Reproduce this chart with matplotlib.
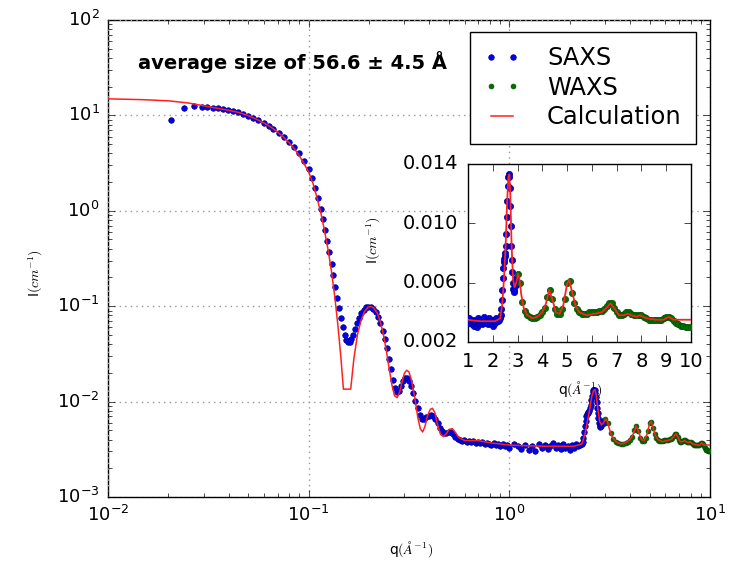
import matplotlib
matplotlib.use("Agg")
import matplotlib.pyplot as plt

plt.style.use('classic')
plt.rcParams['figure.facecolor'] = 'white'
plt.rcParams['savefig.facecolor'] = 'white'

# ---------------- data ----------------
saxs_q = [0.0207, 0.0239, 0.0268, 0.0293, 0.0313, 0.0333, 0.0355, 0.0376, 0.0398, 0.0422,
          0.0447, 0.0473, 0.0501, 0.0531, 0.0562, 0.0596, 0.0631, 0.0668, 0.0708, 0.075,
          0.0794, 0.0841, 0.0891, 0.0944, 0.1, 0.104, 0.108, 0.1114,
          0.115, 0.118, 0.121, 0.124, 0.127, 0.130, 0.133, 0.136, 0.139, 0.142,
          0.145, 0.148, 0.151, 0.154, 0.157, 0.160, 0.163, 0.166, 0.170, 0.174,
          0.178, 0.183, 0.188, 0.193, 0.198, 0.204, 0.210, 0.216, 0.222, 0.228,
          0.234, 0.240, 0.246, 0.252, 0.258, 0.264, 0.270, 0.276, 0.282, 0.288,
          0.295, 0.302, 0.309, 0.316, 0.324, 0.332, 0.340, 0.349, 0.358, 0.367,
          0.376, 0.386, 0.396, 0.406, 0.417, 0.428, 0.439, 0.450, 0.462, 0.474,
          0.486, 0.499, 0.512, 0.525, 0.539, 0.553, 0.567, 0.582, 0.597, 0.613,
          0.629, 0.645, 0.662, 0.679, 0.697, 0.715, 0.734, 0.753, 0.773, 0.793,
          0.814, 0.835, 0.857, 0.880, 0.903, 0.927, 0.951, 0.976, 1.00,
          1.05, 1.10, 1.15, 1.20, 1.25, 1.30, 1.35, 1.40, 1.45, 1.50,
          1.55, 1.60, 1.65, 1.70, 1.75, 1.80, 1.85, 1.90, 1.95, 2.00,
          2.05, 2.10, 2.15, 2.20, 2.25,
          2.30, 2.32, 2.34, 2.36, 2.38, 2.40, 2.42, 2.44, 2.46, 2.48,
          2.50, 2.52, 2.54, 2.56, 2.58, 2.60, 2.62, 2.64, 2.66, 2.68,
          2.70, 2.72, 2.74, 2.76, 2.78, 2.80, 2.82, 2.84, 2.86, 2.88,
          2.90, 2.92, 2.94, 2.96]
saxs_I = [9.0, 11.9, 12.6, 12.3, 12.2, 12.05, 11.9, 11.6, 11.3, 11.05,
          10.8, 10.35, 9.93, 9.46, 8.95, 8.38, 7.80, 7.20, 6.58, 5.94,
          5.30, 4.63, 4.0, 3.33, 2.74, 2.19, 1.72, 1.35,
          1.05, 0.82, 0.63, 0.48, 0.37, 0.28, 0.21, 0.16, 0.122, 0.095,
          0.075, 0.06, 0.05, 0.044, 0.042, 0.0425, 0.045, 0.05, 0.058, 0.067,
          0.076, 0.085, 0.092, 0.097, 0.099, 0.098, 0.094, 0.087, 0.077, 0.066,
          0.055, 0.045, 0.036, 0.028, 0.022, 0.017, 0.014, 0.0125, 0.0128, 0.0145,
          0.0165, 0.0175, 0.0178, 0.0165, 0.0145, 0.0122, 0.0102, 0.0085, 0.0072, 0.0066,
          0.0066, 0.0069, 0.0071, 0.0072, 0.0071, 0.0066, 0.0059, 0.0053, 0.0049, 0.0047,
          0.0047, 0.0048, 0.0048, 0.0046, 0.0043, 0.0041, 0.0040, 0.0039, 0.0040, 0.0038,
          0.0039, 0.0038, 0.0039, 0.0037, 0.0038, 0.0037, 0.0038, 0.0036, 0.0037, 0.0036,
          0.0035, 0.0037, 0.0035, 0.0036, 0.0034, 0.0036, 0.0034, 0.0035, 0.0033,
          0.0036, 0.0034, 0.0032, 0.0035, 0.0031, 0.0034, 0.0030, 0.0036, 0.0033, 0.0035,
          0.0032, 0.0034, 0.0037, 0.0033, 0.0035, 0.0032, 0.0036, 0.0033, 0.0034, 0.0031,
          0.0035, 0.0033, 0.0036, 0.0034, 0.0035,
          0.0036, 0.0038, 0.0042, 0.0048, 0.0055, 0.0063, 0.0070, 0.0074, 0.0076, 0.0078,
          0.0080, 0.0085, 0.0093, 0.0104, 0.0115, 0.0125, 0.0131, 0.0133, 0.0131, 0.0124,
          0.0112, 0.0098, 0.0085, 0.0075, 0.0067, 0.0060, 0.0056, 0.0054, 0.0055, 0.0058,
          0.0061, 0.0063, 0.0062, 0.0059]

waxs_q = [3.0, 3.1, 3.2, 3.3, 3.4, 3.5, 3.6, 3.7, 3.8, 3.9,
          4.0, 4.1, 4.2, 4.3, 4.4, 4.5, 4.6, 4.7, 4.8, 4.9,
          5.0, 5.1, 5.2, 5.3, 5.4, 5.5, 5.6, 5.7, 5.8, 5.9,
          6.0, 6.1, 6.2, 6.3, 6.4, 6.5, 6.6, 6.7, 6.8, 6.9,
          7.0, 7.1, 7.2, 7.3, 7.4, 7.5, 7.6, 7.7, 7.8, 7.9,
          8.0, 8.1, 8.2, 8.3, 8.4, 8.5, 8.6, 8.7, 8.8, 8.9,
          9.0, 9.1, 9.2, 9.3, 9.4, 9.5, 9.6, 9.7, 9.8, 9.9, 10.0]
waxs_I = [0.0066, 0.0060, 0.0047, 0.0041, 0.0038, 0.0037, 0.0036, 0.0036, 0.0037, 0.0038,
          0.0040, 0.0043, 0.0050, 0.0055, 0.0049, 0.0042, 0.0039, 0.0039, 0.0042, 0.0049,
          0.0060, 0.0061, 0.0053, 0.0046, 0.0042, 0.0040, 0.0039, 0.0039, 0.0039, 0.0040,
          0.0040, 0.0040, 0.0040, 0.0041, 0.0041, 0.0042, 0.0044, 0.0046, 0.0046, 0.0043,
          0.0040, 0.0038, 0.0038, 0.0039, 0.0040, 0.0040, 0.0039, 0.0038, 0.0038, 0.0038,
          0.0038, 0.0037, 0.0036, 0.0035, 0.0035, 0.0035, 0.0035, 0.0035, 0.0035, 0.0036,
          0.0037, 0.0037, 0.0036, 0.0034, 0.0033, 0.0032, 0.0031, 0.0031, 0.0030, 0.0030, 0.0030]

calc_q = [0.01, 0.015, 0.02, 0.025, 0.03, 0.035, 0.04, 0.045, 0.05, 0.055,
          0.06, 0.065, 0.07, 0.075, 0.08, 0.085, 0.09, 0.095, 0.1, 0.105,
          0.11, 0.115, 0.12, 0.125, 0.13, 0.135, 0.14, 0.145, 0.149, 0.162,
          0.168, 0.175, 0.182, 0.19, 0.198, 0.205, 0.212, 0.22, 0.228, 0.236,
          0.244, 0.252, 0.26, 0.268, 0.276, 0.284, 0.292, 0.30, 0.308, 0.316,
          0.326, 0.338, 0.35, 0.36, 0.37, 0.38, 0.392, 0.404, 0.414, 0.426,
          0.44, 0.455, 0.47, 0.485, 0.50, 0.52, 0.54, 0.56, 0.6, 0.65,
          0.7, 0.8, 0.9, 1.0, 1.2, 1.5, 1.8, 2.1, 2.3, 2.38,
          2.45, 2.52, 2.58, 2.63, 2.67, 2.71, 2.76, 2.82, 2.88, 2.95,
          3.02, 3.08, 3.15, 3.25, 3.4, 3.6, 3.8, 4.0, 4.15, 4.28,
          4.4, 4.55, 4.7, 4.85, 5.0, 5.08, 5.2, 5.35, 5.5, 5.8,
          6.1, 6.4, 6.6, 6.75, 6.9, 7.1, 7.3, 7.45, 7.6, 7.8,
          7.95, 8.2, 8.6, 8.9, 9.1, 9.3, 9.6, 10.0]
calc_I = [14.9, 14.6, 14.2, 13.5, 12.6, 11.9, 11.3, 10.7, 9.95, 9.1,
          8.3, 7.5, 6.7, 5.9, 5.15, 4.45, 3.75, 3.1, 2.55, 1.95,
          1.38, 0.95, 0.62, 0.39, 0.23, 0.125, 0.062, 0.028, 0.0135, 0.0135,
          0.028, 0.05, 0.07, 0.088, 0.098, 0.099, 0.095, 0.084, 0.068, 0.05,
          0.034, 0.022, 0.015, 0.0115, 0.011, 0.0125, 0.016, 0.0198, 0.0213, 0.0205,
          0.0165, 0.011, 0.0068, 0.0052, 0.0048, 0.0055, 0.0072, 0.0083, 0.0085, 0.0076,
          0.0056, 0.0045, 0.0043, 0.0046, 0.0051, 0.0052, 0.0047, 0.0042, 0.0039, 0.0039,
          0.0039, 0.0037, 0.0036, 0.0035, 0.00345, 0.0034, 0.0034, 0.0034, 0.0036, 0.0045,
          0.0062, 0.0085, 0.0115, 0.0131, 0.0133, 0.0118, 0.0085, 0.0062, 0.0057, 0.0060,
          0.0066, 0.0062, 0.0052, 0.0043, 0.0038, 0.0036, 0.0037, 0.0040, 0.0046, 0.0055,
          0.0049, 0.0040, 0.0039, 0.0045, 0.0059, 0.0062, 0.0054, 0.0044, 0.0040, 0.0038,
          0.0039, 0.0040, 0.0043, 0.0046, 0.0043, 0.0038, 0.0038, 0.0039, 0.0038, 0.0037,
          0.0038, 0.0036, 0.0035, 0.0035, 0.0037, 0.0035, 0.0035, 0.0035]

annotation = "average size of 56.6 \u00b1 4.5 \u00c5"

# ---------------- figure ----------------
fig = plt.figure(figsize=(7.33, 5.62), dpi=100)
ax = fig.add_axes([0.1473, 0.1157, 0.8213, 0.8488])

ax.plot(saxs_q, saxs_I, 'o', color='#0000ee', mec='#000088', mew=0.5, ms=4,
        label='SAXS', zorder=3)
ax.plot(waxs_q, waxs_I, 'o', color='#007000', mec='#005000', mew=0.5, ms=3.5,
        label='WAXS', zorder=3)
ax.plot(calc_q, calc_I, '-', color='#ff2020', lw=1.1, label='Calculation', zorder=4)

ax.set_xscale('log')
ax.set_yscale('log')
ax.set_xlim(1e-2, 1e1)
ax.set_ylim(1e-3, 1e2)
ax.grid(True, which='major', color='0.6', linestyle=':', lw=1.0)
ax.tick_params(which='major', length=5, labelsize=13, direction='in',
               top=True, right=True, pad=6)
ax.tick_params(which='minor', length=3, direction='in', top=True, right=True)
ax.set_xlabel('q$(\\AA^{-1})$', fontsize=10)
ax.set_ylabel('I$(cm^{-1})$', fontsize=10)
ax.xaxis.set_label_coords(0.503, -0.088)
ax.yaxis.set_label_coords(-0.104, 0.47)

ax.text(0.306, 0.912, annotation, transform=ax.transAxes, ha='center', va='center',
        fontsize=14, fontweight='bold')

leg = ax.legend(loc='upper right', bbox_to_anchor=(0.977, 0.975), borderaxespad=0,
                fontsize=17.4, numpoints=2, handlelength=1.5, handletextpad=1.1,
                labelspacing=0.22, borderpad=0.6, frameon=True, fancybox=False)
leg.get_frame().set_edgecolor('black')
leg.get_frame().set_linewidth(1.0)

# ---------------- inset ----------------
ins = fig.add_axes([0.6385, 0.3915, 0.304, 0.3167])
ins.plot(saxs_q, saxs_I, 'o', color='#0000ee', mec='#000088', mew=0.5, ms=4.5, zorder=3)
ins.plot(waxs_q, waxs_I, 'o', color='#007000', mec='#005000', mew=0.5, ms=4.5, zorder=3)
ins.plot(calc_q, calc_I, '-', color='#ff2020', lw=1.3, zorder=4)
ins.set_xlim(1, 10)
ins.set_ylim(0.002, 0.014)
ins.set_xticks([1, 2, 3, 4, 5, 6, 7, 8, 9, 10])
ins.set_yticks([0.002, 0.006, 0.010, 0.014])
ins.set_yticklabels(['0.002', '0.006', '0.010', '0.014'])
ins.tick_params(length=5, labelsize=14, direction='in', top=True, right=True, pad=7)
ins.set_xlabel('q$(\\AA^{-1})$', fontsize=10)
ins.set_ylabel('I$(cm^{-1})$', fontsize=10)
ins.xaxis.set_label_coords(0.502, -0.21)
ins.yaxis.set_label_coords(-0.38, 0.573)

fig.savefig('out.png', dpi=100)
